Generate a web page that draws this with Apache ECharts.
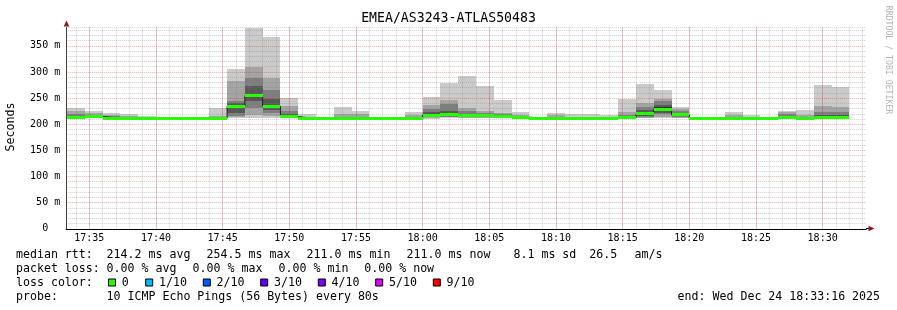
<!DOCTYPE html>
<html><head><meta charset="utf-8">
<script src="https://cdn.jsdelivr.net/npm/echarts@6/dist/echarts.min.js"></script>
<style>html,body{margin:0;padding:0;background:#fff}#c{width:897px;height:310px}</style>
</head><body><div id="c"></div>
<script>
// ---------- data ----------
const chartTitle = 'EMEA/AS3243-ATLAS50483';
const yAxisName = 'Seconds';
const watermark = 'RRDTOOL / TOBI OETIKER';
const rangeStart = '17:33:16';
const rangeEnd = '18:33:16';
const firstBinStart = '17:33:20';
const binSeconds = 80;
// 10 sorted ping RTTs (ms) per 80 s bin
const pings = [
  [211,211,212,213,213,214,216,219,226,231],
  [211,212,213,213,214,215,216,218,221,226],
  [211,211,211,211,211,212,213,215,217,222],
  [211,211,211,211,211,211,212,213,215,219],
  [211,211,211,211,211,211,211,212,213,216],
  [211,211,211,211,211,211,211,211,212,213],
  [211,211,211,211,211,211,211,211,211,212],
  [211,211,211,211,211,211,211,211,211,212],
  [211,211,211,211,211,211,212,214,216,231],
  [211,213,216,222,233,236,241,244,283,306],
  [211,218,231,244,252,257,273,288,310,384],
  [211,216,221,228,233,236,248,265,289,366],
  [211,212,213,214,214,215,220,225,235,251],
  [211,211,211,211,211,211,212,213,214,219.5],
  [211,211,211,211,211,211,211,211,211,211],
  [211,211,211,211,211,211,212,214,219.5,233],
  [211,211,211,211,211,211,212,214,219.5,225],
  [211,211,211,211,211,211,211,211,211,211],
  [211,211,211,211,211,211,211,211,211,211],
  [211,211,211,211,211,211,212,214,218,223],
  [210,212,213,214,215,220,223,229,237,252],
  [211,213,214,215,216,220,226,238,246,279],
  [211,212,213,214,215,218,220,226,231.5,292],
  [211,212,213,214,215,218,219,221,226,273],
  [211,212,212,213,214,216,217,219,222,246],
  [211,211,212,212,213,214,215,216,218,223],
  [211,211,211,211,211,211,211,211,211,212],
  [211,211,211,211,211,211,212,214,217.5,222],
  [211,211,211,211,211,211,211,212,213,219],
  [211,211,211,211,211,211,211,212,213,219.5],
  [211,211,211,211,211,211,211,211,212,217.5],
  [211,211,211,212,212,212,213,218,224,248],
  [211,212,214,216,218,222,227,233.5,240,277],
  [211,214,219,222,225,232,236,244,248,265.5],
  [211,212,213,215,216,220,222,225,228.5,232],
  [211,211,211,211,211,211,211,211,211,211],
  [211,211,211,211,211,211,211,211,211,211],
  [211,211,211,211,211,211,211,212,217.5,223],
  [211,211,211,211,211,211,211,211,212,217.5],
  [211,211,211,211,211,211,211,211,211,211],
  [211,211,211,212,212,213,215,219,223,225],
  [211,211,211,211,211,211,212,214,217.5,227],
  [211,211,211,212,212,213,218,224,234,275],
  [211,211,211,212,212,213,218,224,233.5,271],
  null
];
const medians = [212.5,214.5,211.5,211,211,211,211,211,211,234.5,254.5,234.5,214.5,211,211,211,211,211,211,211,
  217.5,218,216.5,216.5,215,213.5,211,211,211,211,211,212,220,228.5,218,211,211,211,211,211,212,211,212,212,null];
const lossPerBin = medians.map(m => m === null ? null : 0);
const yMax = 385;
const lossLabels = ['0','1/10','2/10','3/10','4/10','5/10','9/10'];
const lossColors = ['#26ff00','#00b8ff','#0059ff','#5e00ff','#7e00ff','#dd00ff','#ff0000'];
const rttItems = ['median rtt:','214.2 ms avg','254.5 ms max','211.0 ms min','211.0 ms now','8.1 ms sd','26.5','am/s'];
const lossItems = ['packet loss:','0.00 % avg','0.00 % max','0.00 % min','0.00 % now'];
const probeItems = ['probe:','10 ICMP Echo Pings (56 Bytes) every 80s'];
const endText = 'end: Wed Dec 24 18:33:16 2025';
const lossColorTitle = 'loss color:';

// ---------- styles / layout ----------
const smokeGrays = ['#cacaca','#a4a4a4','#7e7e7e','#585858','#323232'];
const MONO = 'DejaVu Sans Mono';
const rttX = [16, 106.6, 206.6, 306.6, 406.6, 513.5, 589.3, 634.5];
const lossX = [16, 106.6, 192.6, 278.6, 364.3];
const probeX = [16, 106.6];
const boxX = [108.5, 145.7, 203.3, 260.7, 318.3, 375.7, 433.3];
const rowY = [254.5, 268.5, 282.5, 296.5];
const GRID_MINOR = 'rgba(128,128,128,0.38)';
const GRID_MAJOR = 'rgba(230,0,0,0.33)';

// time of day in minutes
const toMin = s => { const p = s.split(':').map(Number); return p[0] * 60 + p[1] + p[2] / 60; };
const x0 = toMin(rangeStart), x1 = toMin(rangeEnd), xb = toMin(firstBinStart), binMin = binSeconds / 60;

const smokeData = [];
pings.forEach((p, k) => {
  if (!p) return;
  const s = xb + k * binMin, e = s + binMin;
  for (let i = 0; i < 5; i++) {
    if (p[9 - i] > p[i]) smokeData.push([s, e, p[i], p[9 - i], i]);
  }
});
const medianData = [];
const stepData = [];
medians.forEach((m, k) => {
  const s = xb + k * binMin, e = s + binMin;
  if (m === null) { stepData.push([s, null]); return; }
  medianData.push([s, e, m, lossPerBin[k]]);
  stepData.push([s, m]);
  if (k === medians.length - 1 || medians[k + 1] === null) stepData.push([e, m]);
});

const pad = n => (n < 10 ? '0' : '') + n;
const graphics = [];
function txt(x, y, s, extra) {
  graphics.push(Object.assign({ type: 'text', x: x, y: y, silent: true,
    style: Object.assign({ text: s, font: '11.6px "' + MONO + '"', fill: '#000', align: 'left', verticalAlign: 'middle' }, (extra && extra.style) || {}) },
    extra && extra.el || {}));
}
txt(448.5, 19, chartTitle, { style: { font: '13.2px "' + MONO + '"', align: 'center' } });
txt(11, 127, yAxisName, { style: { align: 'center' }, el: { rotation: Math.PI / 2 } });
txt(888, 60, watermark, { style: { font: '8.2px "' + MONO + '"', align: 'center', fill: '#b4b4b4' }, el: { rotation: -Math.PI / 2 } });
rttItems.forEach((s, i) => txt(rttX[i], rowY[0], s));
lossItems.forEach((s, i) => txt(lossX[i], rowY[1], s));
txt(16, rowY[2], lossColorTitle);
lossLabels.forEach((s, i) => {
  graphics.push({ type: 'rect', silent: true, shape: { x: boxX[i], y: rowY[2] - 3.5, width: 7, height: 7 },
    style: { fill: lossColors[i], stroke: '#000', lineWidth: 1 } });
  txt(boxX[i] + 13.3, rowY[2], s);
});
probeItems.forEach((s, i) => txt(probeX[i], rowY[3], s));
txt(677.6, rowY[3], endText);
// axis arrows
graphics.push({ type: 'polygon', silent: true, shape: { points: [[63.7, 26.5], [69.3, 26.5], [66.5, 20.5]] }, style: { fill: '#8c1c1c' } });
graphics.push({ type: 'line', silent: true, shape: { x1: 866, y1: 228.5, x2: 869, y2: 228.5 }, style: { stroke: '#000', lineWidth: 1 } });
graphics.push({ type: 'polygon', silent: true, shape: { points: [[868.5, 225.7], [868.5, 231.3], [874.5, 228.5]] }, style: { fill: '#8c1c1c' } });

const isWhole = v => Math.abs(v - Math.round(v)) < 1e-6;
const chart = echarts.init(document.getElementById('c'), null, { renderer: 'canvas' });
chart.setOption({
  animation: false,
  backgroundColor: '#ffffff',
  grid: { left: 66.2, top: 27.5, width: 800, height: 201.3, containLabel: false },
  xAxis: [
    { type: 'value', min: x0, max: x1, splitNumber: 60, minInterval: 1, maxInterval: 1, z: 3,
      axisLine: { show: true, onZero: false, lineStyle: { color: '#000', width: 1 } },
      axisTick: { show: false }, axisLabel: { show: false },
      splitLine: { show: true, showMinLine: false, showMaxLine: false, lineStyle: { color: GRID_MINOR, type: [1, 1], width: 1 } } },
    { type: 'value', position: 'bottom', min: x0, max: x1, splitNumber: 12, minInterval: 5, maxInterval: 5, z: 3,
      axisLine: { show: false, onZero: false }, axisTick: { show: false },
      axisLabel: { show: true, margin: 5, fontFamily: MONO, fontSize: 10, color: '#000', showMinLabel: false, showMaxLabel: false,
        formatter: function (v) { if (!isWhole(v)) return ''; const m = Math.round(v); if (m % 5 !== 0) return ''; return pad(Math.floor(m / 60)) + ':' + pad(m % 60); } },
      splitLine: { show: true, showMinLine: false, showMaxLine: false, lineStyle: { color: GRID_MAJOR, type: [1, 1], width: 1 } } }
  ],
  yAxis: {
    type: 'value', min: 0, max: yMax, interval: 10, z: 3,
    axisLine: { show: true, lineStyle: { color: '#404040', width: 1 } },
    axisTick: { show: false },
    axisLabel: { show: true, margin: 6, fontFamily: MONO, fontSize: 10, color: '#000', showMaxLabel: false,
      formatter: function (v) { if (v % 50 !== 0) return ''; return v === 0 ? '0  ' : v + ' m'; } },
    splitLine: { show: true, lineStyle: { color: [GRID_MAJOR, GRID_MINOR, GRID_MINOR, GRID_MINOR, GRID_MINOR], type: [1, 1], width: 1 } }
  },
  series: [
    { type: 'custom', xAxisIndex: 0, yAxisIndex: 0, z: 1, clip: true, silent: true, data: smokeData,
      encode: { x: [0, 1], y: [2, 3] },
      renderItem: function (params, api) {
        const a = api.coord([api.value(0), api.value(3)]);
        const b = api.coord([api.value(1), api.value(2)]);
        const x = Math.round(a[0]), y = Math.round(a[1]);
        return { type: 'rect', shape: { x: x, y: y, width: Math.round(b[0]) - x, height: Math.round(b[1]) - y },
          style: { fill: smokeGrays[api.value(4)] } };
      } },
    { type: 'line', xAxisIndex: 0, yAxisIndex: 0, z: 5, step: 'end', showSymbol: false, symbol: 'none', silent: true,
      connectNulls: false, data: stepData, lineStyle: { color: '#202020', width: 1 } },
    { type: 'custom', xAxisIndex: 0, yAxisIndex: 0, z: 6, clip: true, silent: true, data: medianData,
      encode: { x: [0, 1], y: 2 },
      renderItem: function (params, api) {
        const a = api.coord([api.value(0), api.value(2)]);
        const b = api.coord([api.value(1), api.value(2)]);
        const x = Math.round(a[0]), y = Math.round(a[1] - 1.5);
        return { type: 'rect', shape: { x: x, y: y, width: Math.round(b[0]) - x, height: 3 },
          style: { fill: lossColors[api.value(3)] } };
      } }
  ],
  graphic: graphics
});
</script></body></html>
